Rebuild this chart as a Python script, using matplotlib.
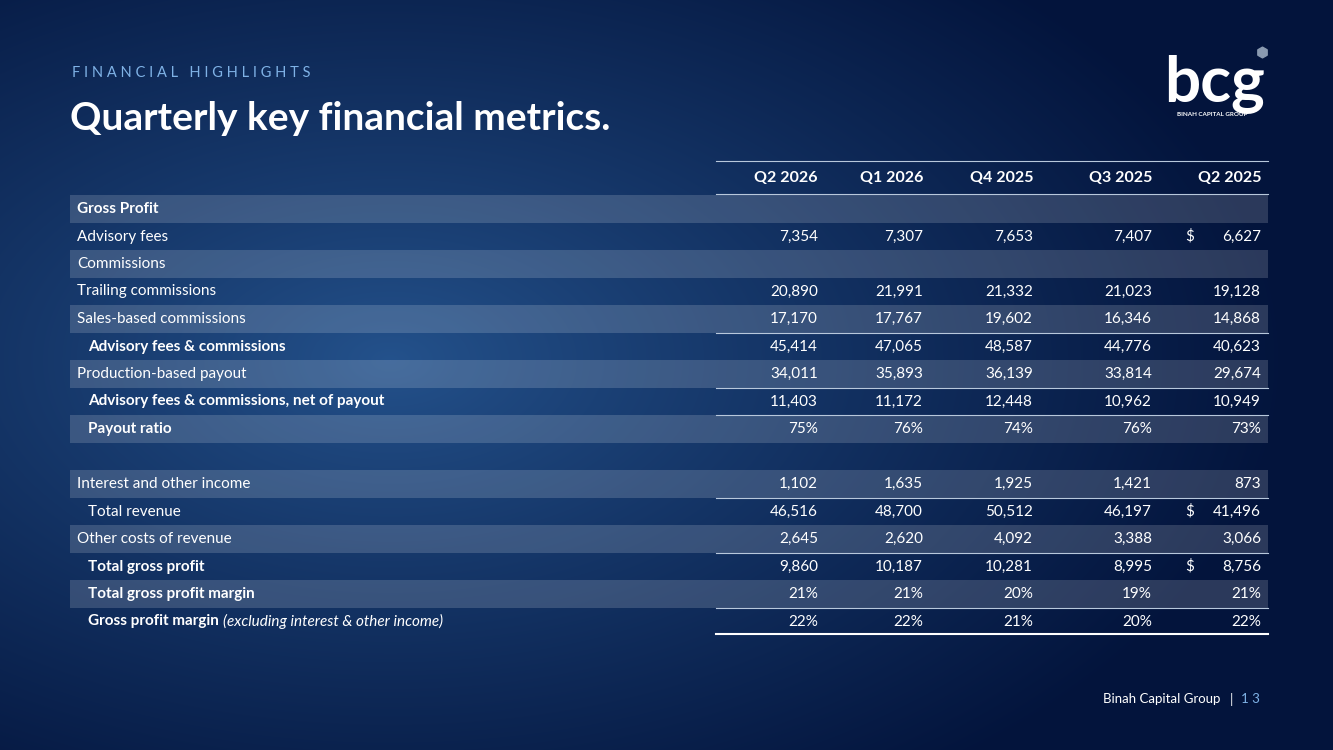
import matplotlib
matplotlib.use("Agg")
import matplotlib.pyplot as plt
from matplotlib.patches import Rectangle
import numpy as np

plt.rcParams['font.family'] = ['Lato', 'DejaVu Sans']

columns = ["Q2 2026", "Q1 2026", "Q4 2025", "Q3 2025", "Q2 2025"]
row_labels = [
    "Gross Profit", "Advisory fees", "Commissions", "Trailing commissions",
    "Sales-based commissions", "Advisory fees & commissions", "Production-based payout",
    "Advisory fees & commissions, net of payout", "Payout ratio", "",
    "Interest and other income", "Total revenue", "Other costs of revenue",
    "Total gross profit", "Total gross profit margin", "Gross profit margin",
]
row_values = [
    None,
    ["7,354", "7,307", "7,653", "7,407", "6,627"],
    None,
    ["20,890", "21,991", "21,332", "21,023", "19,128"],
    ["17,170", "17,767", "19,602", "16,346", "14,868"],
    ["45,414", "47,065", "48,587", "44,776", "40,623"],
    ["34,011", "35,893", "36,139", "33,814", "29,674"],
    ["11,403", "11,172", "12,448", "10,962", "10,949"],
    ["75%", "76%", "74%", "76%", "73%"],
    None,
    ["1,102", "1,635", "1,925", "1,421", "873"],
    ["46,516", "48,700", "50,512", "46,197", "41,496"],
    ["2,645", "2,620", "4,092", "3,388", "3,066"],
    ["9,860", "10,187", "10,281", "8,995", "8,756"],
    ["21%", "21%", "20%", "19%", "21%"],
    ["22%", "22%", "21%", "20%", "22%"],
]
shaded = [0, 2, 4, 6, 8, 10, 12, 14]
bold = [0, 5, 7, 8, 13, 14, 15]
indented = [5, 7, 8, 11, 13, 14, 15]
dollar_rows = [1, 11, 13]
lines_below = [4, 6, 7, 10, 12, 14]

W, H = 1333, 750
fig = plt.figure(figsize=(W / 100, H / 100), dpi=100)
ax = fig.add_axes([0, 0, 1, 1])
ax.set_xlim(0, W)
ax.set_ylim(H, 0)
ax.axis("off")

# background gradient
yy, xx = np.mgrid[0:H, 0:W]
d = np.sqrt(((xx - 390) / 900.0) ** 2 + ((yy - 360) / 520.0) ** 2)
t = np.clip(d, 0, 1) ** 0.9
c0 = np.array([0x24, 0x52, 0x8c]) / 255
c1 = np.array([0x03, 0x14, 0x3c]) / 255
img = c0[None, None, :] * (1 - t[..., None]) + c1[None, None, :] * t[..., None]
ax.imshow(img, extent=[0, W, H, 0], aspect="auto", zorder=0)

ax.text(72, 73, "F I N A N C I A L   H I G H L I G H T S", color="#7fb2e6",
        fontsize=10.5, va="center", ha="left")
ax.text(70, 118, "Quarterly key financial metrics.", color="white", fontsize=28,
        fontweight="bold", va="center", ha="left")

# logo
ax.text(1215, 84, "bcg", color="white", fontsize=46, fontweight="bold",
        va="center", ha="center")
ax.text(1212, 115, "BINAH CAPITAL GROUP", color="white", fontsize=4.5,
        fontweight="bold", va="center", ha="center", zorder=4)
ax.scatter([1262], [52], s=60, marker="h", color="#8a9ab0", zorder=3)

col_right = [818, 923, 1033, 1152, 1261]
x0, x1 = 70, 1268
vx0 = 716
rh = 27.5
y_first = 209

ax.plot([vx0, x1], [161, 161], color="#b8c8dc", lw=0.8)
ax.plot([vx0, x1], [194, 194], color="#b8c8dc", lw=0.8)
for c, x in zip(columns, col_right):
    ax.text(x, 178, c, color="white", fontsize=11.5, fontweight="bold",
            ha="right", va="center")

for i, (lab, vals) in enumerate(zip(row_labels, row_values)):
    yc = y_first + i * rh
    if i in shaded:
        ax.add_patch(Rectangle((x0, yc - rh / 2), x1 - x0, rh,
                               color="white", alpha=0.16, lw=0, zorder=1))
    if i in lines_below:
        ax.plot([vx0, x1], [yc + rh / 2, yc + rh / 2], color="#b8c8dc", lw=0.8, zorder=2)
    lx = 88 if i in indented else 77
    fw = "bold" if i in bold else "normal"
    if i == 15:
        t1 = ax.text(lx, yc, lab + " ", color="white", fontsize=11,
                     fontweight="bold", ha="left", va="center", zorder=3)
        fig.canvas.draw()
        bb = t1.get_window_extent()
        ax.text(lx + bb.width, yc, "(excluding interest & other income)", color="white",
                fontsize=11, style="italic", ha="left", va="center", zorder=3)
    else:
        ax.text(lx, yc, lab, color="white", fontsize=11, fontweight=fw,
                ha="left", va="center", zorder=3)
    if vals:
        for v, x in zip(vals, col_right):
            ax.text(x, yc, v, color="white", fontsize=11, ha="right",
                    va="center", zorder=3)
        if i in dollar_rows:
            ax.text(1185, yc, "$", color="white", fontsize=11, ha="left",
                    va="center", zorder=3)

ax.plot([vx0, x1], [634, 634], color="white", lw=1.5)

ax.text(1220, 699, "Binah Capital Group", color="white", fontsize=9.5,
        ha="right", va="center")
ax.text(1231, 699, "|", color="white", fontsize=9.5, ha="center", va="center")
ax.text(1241, 699, "1 3", color="#7fb2e6", fontsize=9.5, ha="left", va="center")

fig.savefig("out.png", dpi=100)
